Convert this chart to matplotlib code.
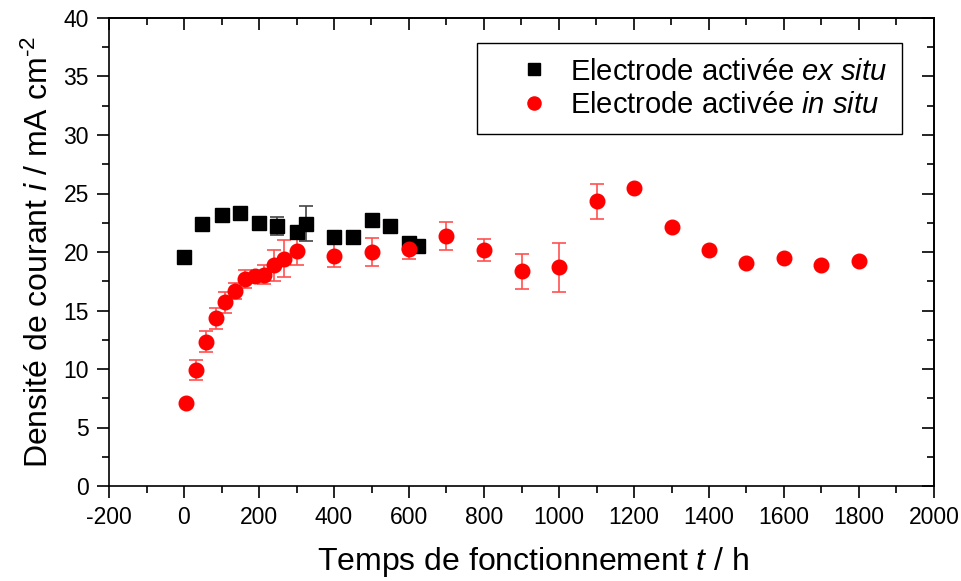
import matplotlib
matplotlib.use('Agg')
import matplotlib.pyplot as plt
from matplotlib.ticker import MultipleLocator

plt.rcParams['font.family'] = ['Liberation Sans', 'DejaVu Sans']
plt.rcParams['mathtext.fontset'] = 'custom'
plt.rcParams['mathtext.rm'] = 'Liberation Sans'
plt.rcParams['mathtext.it'] = 'Liberation Sans:italic'
plt.rcParams['axes.unicode_minus'] = False

# Electrode activée ex situ
ex_t = [0, 49, 100, 149, 200, 249, 300, 325, 400, 450, 500, 549, 601, 625]
ex_i = [19.55, 22.37, 23.16, 23.3, 22.5, 22.2, 21.7, 22.4, 21.25, 21.25, 22.7, 22.2, 20.74, 20.55]
ex_err = [0, 0, 0, 0, 0, 0.75, 0, 1.5, 0, 0, 0, 0, 0.2, 0]

# Electrode activée in situ
in_t = [5, 32, 58, 84, 110, 136, 162, 189, 214, 240, 266, 300, 400, 500, 601,
        700, 800, 900, 1000, 1100, 1200, 1300, 1400, 1500, 1600, 1700, 1800]
in_i = [7.07, 9.9, 12.33, 14.33, 15.7, 16.67, 17.7, 17.95, 18.06, 18.86, 19.43, 20.08, 19.7, 20.03, 20.26,
        21.37, 20.17, 18.35, 18.69, 24.33, 25.5, 22.1, 20.14, 19.09, 19.46, 18.86, 19.23]
in_err = [0, 0.87, 0.9, 0.9, 0.9, 0.7, 0.8, 0, 0.8, 1.35, 1.6, 1.2, 0.95, 1.2, 0.9,
          1.2, 0.97, 1.5, 2.07, 1.5, 0, 0, 0, 0, 0, 0, 0]

fig = plt.figure(figsize=(9.62, 5.81), dpi=100)
ax = fig.add_axes([109 / 962, 95 / 581, 825 / 962, 468 / 581])

ax.errorbar(ex_t, ex_i, yerr=ex_err, fmt='none', ecolor='#444444', elinewidth=1.2, capsize=5, capthick=1.2)
ax.errorbar(in_t, in_i, yerr=in_err, fmt='none', ecolor='#ff5050', elinewidth=1.2, capsize=5, capthick=1.2)
ax.plot(ex_t, ex_i, 's', color='black', markersize=9.5, label=r'Electrode activée $\it{ex\ situ}$')
ax.plot(in_t, in_i, 'o', color='red', markeredgecolor='red', markersize=10.5, label=r'Electrode activée $\it{in\ situ}$')

ax.set_xlim(-200, 2000)
ax.set_ylim(0, 40)
ax.xaxis.set_major_locator(MultipleLocator(200))
ax.xaxis.set_minor_locator(MultipleLocator(100))
ax.yaxis.set_major_locator(MultipleLocator(5))
ax.yaxis.set_minor_locator(MultipleLocator(2.5))

for s in ax.spines.values():
    s.set_linewidth(1.2)

ax.tick_params(which='both', direction='out', top=False, right=False, width=1.2, labelsize=16.5)
ax.tick_params(which='major', length=8.5)
ax.tick_params(which='minor', length=5)
ax.tick_params(axis='x', which='major', pad=6)
ax.tick_params(axis='y', which='major', pad=6)

# top and right axes with inward ticks
top = ax.secondary_xaxis('top')
top.xaxis.set_major_locator(MultipleLocator(200))
top.xaxis.set_minor_locator(MultipleLocator(100))
top.tick_params(which='both', direction='in', labeltop=False, width=1.2)
top.tick_params(which='major', length=8.5)
top.tick_params(which='minor', length=5)
top.spines['top'].set_linewidth(1.2)
right = ax.secondary_yaxis('right')
right.yaxis.set_major_locator(MultipleLocator(5))
right.yaxis.set_minor_locator(MultipleLocator(2.5))
right.tick_params(which='both', direction='in', labelright=False, width=1.2)
right.tick_params(which='major', length=8.5)
right.tick_params(which='minor', length=5)
right.spines['right'].set_linewidth(1.2)

ax.set_xlabel(r'Temps de fonctionnement $\it{t}$ / h', fontsize=23)
ax.xaxis.set_label_coords(0.514, -0.126)
ax.set_ylabel(r'Densité de courant $\it{i}$ / mA cm$^{\text{-2}}$', fontsize=23, labelpad=6)

leg = ax.legend(loc='upper right', bbox_to_anchor=(0.961, 0.9466), borderaxespad=0,
                fontsize=21, fancybox=False, edgecolor='black', framealpha=1,
                markerscale=0.9, handlelength=2.9, handletextpad=-0.2,
                borderpad=0.5, labelspacing=0.2)
leg.get_frame().set_linewidth(1.0)

plt.savefig('out.png', dpi=100)
